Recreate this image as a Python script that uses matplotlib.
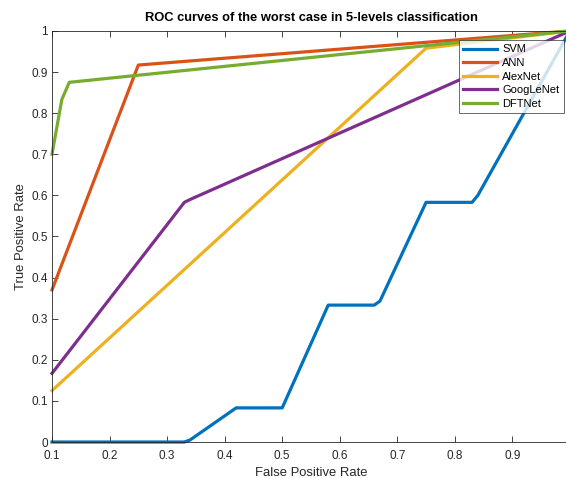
import matplotlib.pyplot as plt

plt.rcParams["font.family"] = ["Liberation Sans", "DejaVu Sans"]

# ROC points
svm_fpr = [0.1, 0.33, 0.34, 0.42, 0.5, 0.58, 0.66, 0.67, 0.75, 0.83, 0.84, 1.0]
svm_tpr = [0.0, 0.0, 0.005, 0.083, 0.083, 0.333, 0.333, 0.343, 0.583, 0.583, 0.6, 1.0]

ann_fpr = [0.1, 0.25, 1.0]
ann_tpr = [0.37, 0.917, 1.0]

alexnet_fpr = [0.1, 0.75, 1.0]
alexnet_tpr = [0.125, 0.958, 1.0]

googlenet_fpr = [0.1, 0.33, 0.34, 1.0]
googlenet_tpr = [0.167, 0.583, 0.59, 1.0]

dftnet_fpr = [0.1, 0.117, 0.13, 1.0]
dftnet_tpr = [0.7, 0.833, 0.875, 1.0]

labels = ["SVM", "ANN", "AlexNet", "GoogLeNet", "DFTNet"]
colors = ["#0072BD", "#D95319", "#EDB120", "#7E2F8E", "#77AC30"]

fig = plt.figure(figsize=(5.66, 4.78), dpi=100)
ax = fig.add_axes([0.0919, 0.0753, 0.915, 0.86])

curves = [
    (svm_fpr, svm_tpr),
    (ann_fpr, ann_tpr),
    (alexnet_fpr, alexnet_tpr),
    (googlenet_fpr, googlenet_tpr),
    (dftnet_fpr, dftnet_tpr),
]
for (fpr, tpr), label, color in zip(curves, labels, colors):
    ax.plot(fpr, tpr, color=color, linewidth=2.3, label=label,
            solid_joinstyle="round", clip_on=False)

ax.set_xlim(0.1, 1.0)
ax.set_ylim(0, 1)
ax.set_xticks([0.1, 0.2, 0.3, 0.4, 0.5, 0.6, 0.7, 0.8, 0.9])
ax.set_xticklabels(["0.1", "0.2", "0.3", "0.4", "0.5", "0.6", "0.7", "0.8", "0.9"])
ax.set_yticks([0, 0.1, 0.2, 0.3, 0.4, 0.5, 0.6, 0.7, 0.8, 0.9, 1])
ax.set_yticklabels(["0", "0.1", "0.2", "0.3", "0.4", "0.5", "0.6", "0.7", "0.8", "0.9", "1"])
ax.tick_params(direction="in", top=True, right=False, labelsize=8.5,
               length=4, width=0.6, colors="#262626")
ax.tick_params(axis="x", pad=6)
ax.tick_params(axis="y", pad=3)
for spine in ax.spines.values():
    spine.set_linewidth(0.6)
    spine.set_color("#262626")

ax.set_xlabel("False Positive Rate", fontsize=9.4, color="#262626", labelpad=3)
ax.set_ylabel("True Positive Rate", fontsize=9.4, color="#262626", labelpad=3)
ax.set_title("ROC curves of the worst case in 5-levels classification",
             fontsize=9.3, fontweight="bold", pad=7)

leg = ax.legend(loc="upper left", bbox_to_anchor=(0.785, 0.978), fontsize=8,
                handlelength=3.1, frameon=True, fancybox=False, borderpad=0.4,
                labelspacing=0.32, handletextpad=0.45, borderaxespad=0)
leg.get_frame().set_edgecolor("#262626")
leg.get_frame().set_linewidth(0.6)

fig.savefig("out.png", dpi=100)
